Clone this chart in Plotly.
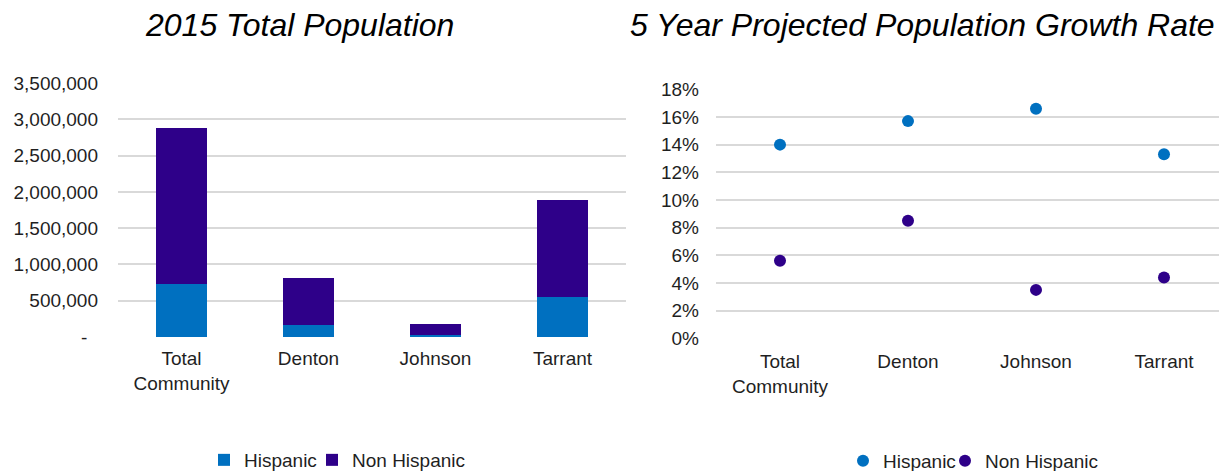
import plotly.graph_objects as go

# Counties in the service area
categories = ["Total<br>Community", "Denton", "Johnson", "Tarrant"]

# 2015 total population by ethnicity
pop_hispanic = [737000, 165000, 25000, 547000]
pop_non_hispanic = [2137000, 643000, 150000, 1344000]

# 5-year projected population growth rate
growth_hispanic = [0.140, 0.157, 0.166, 0.133]
growth_non_hispanic = [0.056, 0.085, 0.035, 0.044]

# Left axis tick labels (accounting style, dash for zero)
pop_tickvals = [0, 500000, 1000000, 1500000, 2000000, 2500000, 3000000, 3500000]
pop_ticktext = ["-\u00a0\u00a0", "500,000", "1,000,000", "1,500,000", "2,000,000",
                "2,500,000", "3,000,000", "3,500,000"]
rate_tickvals = [0, 0.02, 0.04, 0.06, 0.08, 0.10, 0.12, 0.14, 0.16, 0.18]
rate_ticktext = ["0%", "2%", "4%", "6%", "8%", "10%", "12%", "14%", "16%", "18%"]

BLUE = "#0070C0"
PURPLE = "#2E0089"
GRID = "#D9D9D9"
TEXT = "#1F1F1F"
FONT = "Liberation Sans, Arial, sans-serif"
W, H = 1219, 471

fig = go.Figure()

fig.add_trace(go.Bar(x=categories, y=pop_hispanic, name="Hispanic",
                     marker=dict(color=BLUE, line=dict(width=0)),
                     xaxis="x", yaxis="y", legend="legend", showlegend=True))
fig.add_trace(go.Bar(x=categories, y=pop_non_hispanic, name="Non Hispanic",
                     marker=dict(color=PURPLE, line=dict(width=0)),
                     xaxis="x", yaxis="y", legend="legend3", showlegend=True))

fig.add_trace(go.Scatter(x=categories, y=growth_hispanic, name="Hispanic",
                         mode="markers", marker=dict(color=BLUE, size=12),
                         xaxis="x2", yaxis="y2", legend="legend2", showlegend=True))
fig.add_trace(go.Scatter(x=categories, y=growth_non_hispanic, name="Non Hispanic",
                         mode="markers", marker=dict(color=PURPLE, size=12),
                         xaxis="x2", yaxis="y2", legend="legend4", showlegend=True))

def px_x(p):
    return p / W

def px_y(p):
    return (H - p) / H

axis_font = dict(family=FONT, size=19, color=TEXT)

def legend_at(x_px, y_px):
    return dict(orientation="h", x=px_x(x_px), xanchor="left",
                y=px_y(y_px), yanchor="middle", font=axis_font,
                bgcolor="rgba(0,0,0,0)", itemwidth=30)

fig.update_layout(
    width=W, height=H,
    showlegend=True,
    margin=dict(l=0, r=0, t=0, b=0, autoexpand=False),
    paper_bgcolor="white", plot_bgcolor="white",
    barmode="stack", bargap=0.6,
    font=axis_font,
    xaxis=dict(domain=[px_x(118), px_x(626)], anchor="y", type="category",
               range=[-0.5, 3.5], showgrid=False, showline=False, ticks="",
               tickfont=axis_font, ticklabelstandoff=8, zeroline=False,
               automargin=False),
    yaxis=dict(domain=[px_y(337), px_y(83)], anchor="x", range=[0, 3500000],
               tickvals=pop_tickvals, ticktext=pop_ticktext,
               showgrid=True, gridcolor=GRID, gridwidth=1.5, zeroline=False,
               showline=False, ticks="", tickfont=axis_font, ticklabelstandoff=19,
               automargin=False),
    xaxis2=dict(domain=[px_x(716), 1.0], anchor="y2", type="category",
                range=[-0.5, 3.5 - (716 + 4 * 128 - W) / 128],
                showgrid=False, showline=False, ticks="",
                tickfont=axis_font, ticklabelstandoff=10, zeroline=False,
                automargin=False),
    yaxis2=dict(domain=[px_y(338.3), px_y(89.3)], anchor="x2", range=[0, 0.18],
                tickvals=rate_tickvals, ticktext=rate_ticktext,
                showgrid=True, gridcolor=GRID, gridwidth=1.5, zeroline=False,
                showline=False, ticks="", tickfont=axis_font, ticklabelstandoff=16,
                automargin=False),
    legend=legend_at(204, 460),
    legend3=legend_at(312, 460),
    legend2=legend_at(843, 461),
    legend4=legend_at(945, 461),
    annotations=[
        dict(text="<i>2015 Total Population</i>", x=px_x(299), y=px_y(25),
             xref="paper", yref="paper", xanchor="center", yanchor="middle",
             showarrow=False, font=dict(family=FONT, size=32, color="#000000")),
        dict(text="<i>5 Year Projected Population Growth Rate</i>", x=px_x(922),
             y=px_y(25), xref="paper", yref="paper", xanchor="center",
             yanchor="middle", showarrow=False,
             font=dict(family=FONT, size=32, color="#000000")),
    ],
)

fig.write_html("out.html")
